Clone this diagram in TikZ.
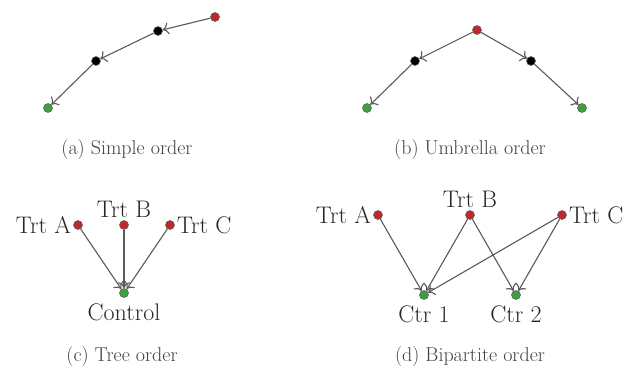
\documentclass[tikz,border=0pt]{standalone}
\usepackage{tikz}
\usetikzlibrary{arrows.meta,positioning}
\definecolor{trtred}{RGB}{190,40,45}
\definecolor{ctrgreen}{RGB}{60,160,60}

\begin{document}
\begin{tikzpicture}[x=1pt,y=-1pt,
        every label/.style={font=\fontsize{24}{28}\selectfont,inner sep=2pt,text=black!85},
        dot/.style={circle,draw=black!60,line width=0.6pt,inner sep=0pt,minimum size=9pt},
        trt/.style={dot,fill=trtred},
        mid/.style={dot,fill=black},
        ctr/.style={dot,fill=ctrgreen},
        arr/.style={draw=black!65,line width=1.1pt,-{To[length=6pt,width=12pt]}},
        captext/.style={font=\fontsize{20}{24}\selectfont,text=black!75}]
  \useasboundingbox (0,0) rectangle (638,372);
  % (a) simple order
  \node[trt] (a1) at (215,17)  {};
  \node[mid] (a2) at (158,31)  {};
  \node[mid] (a3) at (96,61)   {};
  \node[ctr] (a4) at (48,108)  {};
  \foreach \a/\b in {a1/a2,a2/a3,a3/a4}{
    \draw[arr] (\a)--(\b);
  }
  \node[captext] (capa) at (127,150) {(a) Simple order};
  % (b) umbrella order
  \node[trt] (b0) at (477,30)  {};
  \node[mid] (bl) at (415,61)  {};
  \node[mid] (br) at (531,61)  {};
  \node[ctr] (bgl) at (367,108) {};
  \node[ctr] (bgr) at (582,108) {};
  \foreach \a/\b in {b0/bl,bl/bgl,b0/br,br/bgr}{
    \draw[arr] (\a)--(\b);
  }
  \node[captext] (capb) at (470,150) {(b) Umbrella order};
  % (c) tree order
  \node[trt,label={left:Trt A}]  (ca) at (78,225)  {};
  \node[trt,label={above:Trt B}] (cb) at (124,225) {};
  \node[trt,label={right:Trt C}] (cc) at (170,225) {};
  \node[ctr,label={[yshift=-4pt]below:Control}] (cctl) at (124,293) {};
  \foreach \a in {ca,cb,cc}{
    \draw[arr] (\a)--(cctl);
  }
  \node[captext] (capc) at (122,357) {(c) Tree order};
  % (d) bipartite order
  \node[trt,label={left:Trt A}]  (da) at (378,215) {};
  \node[trt,label={above:Trt B}] (db) at (470,215) {};
  \node[trt,label={right:Trt C}] (dc) at (562,215) {};
  \node[ctr,label={[yshift=-4pt]below:Ctr 1}] (d1) at (424,295) {};
  \node[ctr,label={[yshift=-4pt]below:Ctr 2}] (d2) at (516,295) {};
  \foreach \a/\b in {da/d1,db/d1,db/d2,dc/d1,dc/d2}{
    \draw[arr] (\a)--(\b);
  }
  \node[captext] (capd) at (470,357) {(d) Bipartite order};
\end{tikzpicture}
\end{document}
